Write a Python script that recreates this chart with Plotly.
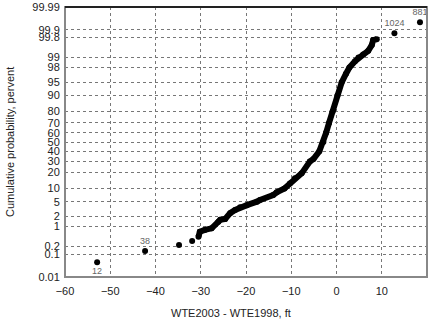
import plotly.graph_objects as go
from statistics import NormalDist

# ---- data ----
curve_x = [-30.5, -30.2, -29.1, -27.6, -26.1, -25.7, -24.6, -23.5, -22.4, -21.3,
           -19.8, -17.6, -16.9, -14.0, -13.2, -11.5, -10.3, -9.2, -7.7, -5.9,
           -5.1, -3.8, -2.9, -2.3, -1.65, -0.85, 0.2, 1.15, 2.1, 2.85,
           4.1, 4.85, 5.9, 7.0, 7.8, 8.1, 8.9]
curve_p = [0.45, 0.67, 0.77, 0.87, 1.4, 1.6, 1.7, 2.5, 3.05, 3.6,
           4.1, 5.0, 5.5, 7.2, 8.3, 10.0, 12.7, 15.9, 19.4, 29.5,
           32.0, 40.0, 50.0, 60.0, 70.0, 80.0, 90.0, 95.0, 97.0, 98.0,
           98.7, 99.0, 99.2, 99.4, 99.62, 99.75, 99.77]

outlier_x = [-52.9, -42.3, -34.8, -31.9, 12.8, 18.45]
outlier_p = [0.046, 0.134, 0.228, 0.32, 99.862, 99.951]
outlier_labels = ["12", "38", "", "", "1024", "881"]
outlier_label_pos = ["bottom center", "top center", "top center", "top center",
                     "top center", "top center"]

prob_ticks = [0.01, 0.1, 0.2, 1, 2, 5, 10, 20, 30, 40, 50, 60, 70, 80, 90,
              95, 98, 99, 99.8, 99.9, 99.99]
prob_tick_text = ["0.01", "0.1", "0.2", "1", "2", "5", "10", "20", "30", "40",
                  "50", "60", "70", "80", "90", "95", "98", "99", "99.8",
                  "99.9", "99.99"]
x_ticks = [-60, -50, -40, -30, -20, -10, 0, 10, 20]

# ---- probability (normal) scale ----
nd = NormalDist()
def zscale(p_list):
    return [nd.inv_cdf(p / 100.0) for p in p_list]

zmin, zmax = nd.inv_cdf(0.0001), nd.inv_cdf(0.9999)

fig = go.Figure()
fig.add_trace(go.Scatter(
    x=curve_x, y=zscale(curve_p), mode="lines+markers",
    line=dict(color="black", width=6, shape="linear"),
    marker=dict(color="black", size=6),
    cliponaxis=False, hoverinfo="skip", showlegend=False))
fig.add_trace(go.Scatter(
    x=outlier_x, y=zscale(outlier_p), mode="markers+text",
    marker=dict(color="black", size=6),
    text=outlier_labels, textposition=outlier_label_pos,
    textfont=dict(family="Liberation Sans, Arial", size=9, color="#666"),
    cliponaxis=False, hoverinfo="skip", showlegend=False))

grid = dict(showgrid=True, gridcolor="#777", gridwidth=1, griddash="dot",
            zeroline=False, showline=False, automargin=False)
fig.update_xaxes(range=[-60, 20], tickvals=x_ticks, ticks="outside",
                 ticklen=4, tickcolor="rgba(0,0,0,0)", **grid)
fig.update_yaxes(range=[zmin, zmax], tickvals=zscale(prob_ticks),
                 ticktext=prob_tick_text, ticks="outside", ticklen=2,
                 tickcolor="rgba(0,0,0,0)", **grid)

# frame
fig.add_shape(type="rect", xref="paper", yref="paper", x0=0, x1=1, y0=0, y1=1,
              line=dict(color="#888", width=2))
fig.add_shape(type="line", xref="paper", yref="paper", x0=0, x1=1, y0=1, y1=1,
              line=dict(color="black", width=1.5))

fig.add_annotation(text="WTE2003 - WTE1998, ft", xref="paper", yref="paper",
                   x=0.459, y=-0.133, showarrow=False, xanchor="center",
                   yanchor="middle",
                   font=dict(family="Liberation Sans, Arial", size=11, color="#222"))
fig.add_annotation(text="Cumulative probability, pervent", xref="paper",
                   yref="paper", x=-0.152, y=0.5, showarrow=False,
                   textangle=-90, xanchor="center", yanchor="middle",
                   font=dict(family="Liberation Sans, Arial", size=11, color="#222"))

fig.update_layout(
    width=433, height=322,
    margin=dict(l=65, r=6, t=7, b=45, pad=0, autoexpand=False),
    plot_bgcolor="white", paper_bgcolor="white",
    font=dict(family="Liberation Sans, Arial", size=11, color="#222"),
)
fig.write_html("out.html", config={"displayModeBar": False},
               post_script="document.body.style.margin='0px';document.body.style.overflow='hidden';")
